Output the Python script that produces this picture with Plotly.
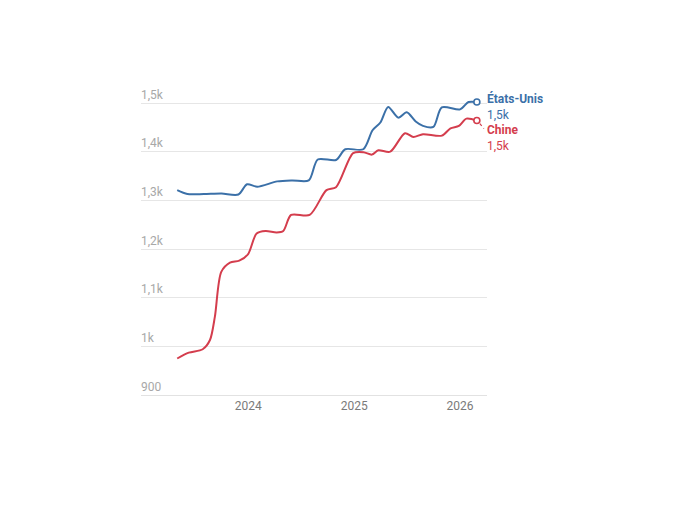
import plotly.graph_objects as go

us_dates = ["2023-05-01", "2023-06-05", "2023-08-01", "2023-10-01", "2023-11-28", "2023-12-28",
            "2024-02-01", "2024-04-10", "2024-06-01", "2024-07-28", "2024-08-28", "2024-10-30",
            "2024-12-01", "2025-02-01", "2025-03-05", "2025-04-01", "2025-04-28", "2025-06-02",
            "2025-07-01", "2025-08-01", "2025-08-26", "2025-10-01", "2025-10-30", "2026-01-01",
            "2026-01-30", "2026-02-28"]
us_values = [1321, 1313, 1313, 1314, 1312, 1333,
             1328, 1339, 1341, 1341, 1384, 1383,
             1405, 1405, 1444, 1460, 1492, 1470,
             1481, 1462, 1453, 1451, 1491, 1487,
             1502, 1502]

cn_dates = ["2023-05-01", "2023-06-10", "2023-07-28", "2023-08-22", "2023-09-08", "2023-09-30",
            "2023-10-30", "2023-12-01", "2023-12-31", "2024-01-30", "2024-03-01", "2024-04-08",
            "2024-05-01", "2024-05-28", "2024-07-31", "2024-09-27", "2024-10-30", "2024-12-28",
            "2025-02-02", "2025-03-03", "2025-03-25", "2025-05-05", "2025-06-25", "2025-07-24",
            "2025-08-26", "2025-10-30", "2025-11-29", "2025-12-28", "2026-01-23", "2026-02-28"]
cn_values = [975, 987, 994, 1013, 1061, 1153,
             1172, 1176, 1189, 1232, 1237, 1234,
             1237, 1270, 1270, 1321, 1327, 1397,
             1399, 1394, 1403, 1400, 1438, 1430,
             1436, 1433, 1448, 1453, 1468, 1464]

series_names = ["États-Unis", "Chine"]
series_labels = ["1,5k", "1,5k"]
y_tickvals = [900, 1000, 1100, 1200, 1300, 1400, 1500]
y_ticktext = ["900", "1k", "1,1k", "1,2k", "1,3k", "1,4k", "1,5k"]

BLUE = "#3b70a8"
RED = "#d43d4d"
FONT = "Roboto"

fig = go.Figure()
for dates, vals, col in [(us_dates, us_values, BLUE), (cn_dates, cn_values, RED)]:
    fig.add_trace(go.Scatter(x=dates, y=vals, mode="lines",
                             line=dict(color=col, width=2, shape="spline", smoothing=0.8),
                             hoverinfo="skip", showlegend=False))
    fig.add_trace(go.Scatter(x=[dates[-1]], y=[vals[-1]], mode="markers",
                             marker=dict(size=6, color="white", line=dict(color=col, width=1.6)),
                             hoverinfo="skip", showlegend=False, cliponaxis=False))

# end labels (name bold + value on second line)
label_specs = [
    (us_dates[-1], us_values[-1], BLUE, series_names[0], series_labels[0], -4),
    (cn_dates[-1], cn_values[-1], RED, series_names[1], series_labels[1], -17),
]
for d, v, col, name, lab, sh in label_specs:
    fig.add_annotation(x=d, y=v, xref="x", yref="y", text="<b>" + name + "</b><br>" + lab,
                       showarrow=False, xanchor="left", yanchor="middle", align="left",
                       xshift=9, yshift=sh, borderpad=0,
                       font=dict(family=FONT, size=12, color=col))

# dotted connector for Chine label
fig.add_shape(type="line", xref="x", yref="y", xsizemode="pixel", ysizemode="pixel",
              xanchor=cn_dates[-1], yanchor=cn_values[-1], x0=3, x1=7, y0=-3, y1=-8,
              line=dict(color=RED, width=1.2, dash="dot"))

fig.update_layout(
    width=688, height=516,
    margin=dict(l=133, r=209, t=78, b=129),
    paper_bgcolor="white", plot_bgcolor="white",
    font=dict(family=FONT, size=12, color="#888888"),
    showlegend=False,
)
fig.update_xaxes(
    type="date", range=["2022-12-27", "2026-04-04"],
    dtick="M12", tick0="2024-01-01", tickformat="%Y",
    showgrid=False, zeroline=False,
    showline=True, linecolor="#e2e2e2", linewidth=1,
    ticks="", tickfont=dict(family=FONT, size=12, color="#7a7a7a"),
)
fig.update_yaxes(
    range=[900, 1535], tickvals=y_tickvals, ticktext=y_ticktext,
    ticklabelposition="inside top", ticklabelstandoff=-3,
    showgrid=True, gridcolor="#e6e6e6", gridwidth=1, zeroline=False,
    showline=False, ticks="",
    tickfont=dict(family=FONT, size=12, color="#a8a8a8"),
)

fig.write_html("out.html")
